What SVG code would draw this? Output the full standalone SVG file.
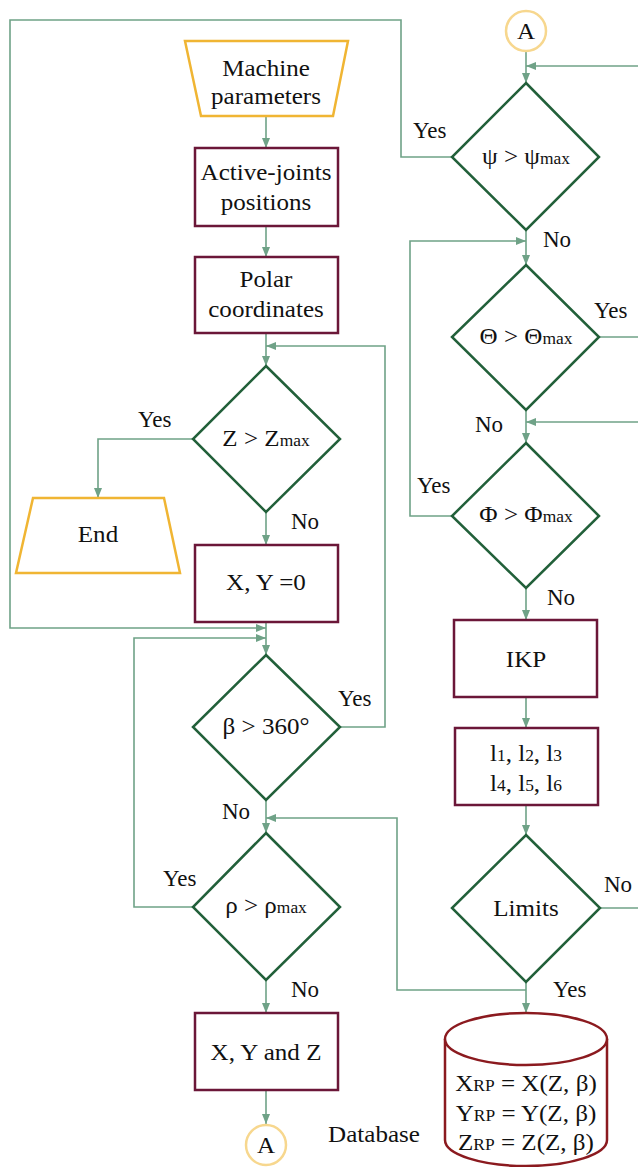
<svg xmlns="http://www.w3.org/2000/svg" width="638" height="1167" viewBox="0 0 638 1167" font-family="'Liberation Serif', 'Times New Roman', serif">
<style>
text{font-family:'Liberation Serif','Times New Roman',serif;fill:#111;}
.t{font-size:23px;text-anchor:middle;}
.s{font-size:16px;}
.lbl{font-size:23px;}
.box{fill:#fff;stroke:#6b1738;stroke-width:2.5;}
.dia{fill:#fff;stroke:#22603a;stroke-width:2.5;}
.io{fill:#fff;stroke:#f0b533;stroke-width:2.5;}
.con{fill:#fff;stroke:#f7d78e;stroke-width:2.5;}
.db{fill:#fff;stroke:#8b1a1f;stroke-width:2.5;}
.c path{fill:none;stroke:#6fa287;stroke-width:1.6;}
</style>
<defs>
<marker id="ar" markerWidth="10" markerHeight="8" refX="10" refY="4" orient="auto" markerUnits="userSpaceOnUse">
<path d="M0,0 L10,4 L0,8 z" fill="#6fa287"/>
</marker>
</defs>
<rect width="638" height="1167" fill="#fff"/>
<g class="c" id="connectors">
<path d="M266,116 V148" marker-end="url(#ar)"/>
<path d="M266,226 V257" marker-end="url(#ar)"/>
<path d="M266,333 V366" marker-end="url(#ar)"/>
<path d="M340,727 H385 V346 H266" marker-end="url(#ar)"/>
<path d="M193,439 H98 V498" marker-end="url(#ar)"/>
<path d="M266,512 V545" marker-end="url(#ar)"/>
<path d="M266,622 V655" marker-end="url(#ar)"/>
<path d="M452,157 H401 V20 H10 V628 H266" marker-end="url(#ar)"/>
<path d="M193,907 H134 V638 H266" marker-end="url(#ar)"/>
<path d="M266,800 V833" marker-end="url(#ar)"/>
<path d="M526,990 H397 V818 H266" marker-end="url(#ar)"/>
<path d="M266,980 V1013" marker-end="url(#ar)"/>
<path d="M266,1090 V1124" marker-end="url(#ar)"/>
<path d="M526,51 V83" marker-end="url(#ar)"/>
<path d="M638,66 H526" marker-end="url(#ar)"/>
<path d="M526,230 V265" marker-end="url(#ar)"/>
<path d="M452,516 H410 V241 H526" marker-end="url(#ar)"/>
<path d="M599,337 H638"/>
<path d="M638,422 H526" marker-end="url(#ar)"/>
<path d="M526,410 V443" marker-end="url(#ar)"/>
<path d="M526,588 V620" marker-end="url(#ar)"/>
<path d="M526,697 V728" marker-end="url(#ar)"/>
<path d="M526,805 V835" marker-end="url(#ar)"/>
<path d="M600,908 H638"/>
<path d="M526,982 V1013" marker-end="url(#ar)"/>
</g>
<g id="labels">
<text class="lbl" x="413" y="138">Yes</text>
<text class="lbl" x="543" y="247">No</text>
<text class="lbl" x="594" y="318">Yes</text>
<text class="lbl" x="475" y="432">No</text>
<text class="lbl" x="417" y="493">Yes</text>
<text class="lbl" x="547" y="605">No</text>
<text class="lbl" x="604" y="892">No</text>
<text class="lbl" x="553" y="997">Yes</text>
<text class="lbl" x="138" y="427">Yes</text>
<text class="lbl" x="291" y="529">No</text>
<text class="lbl" x="338" y="706">Yes</text>
<text class="lbl" x="222" y="819">No</text>
<text class="lbl" x="163" y="886">Yes</text>
<text class="lbl" x="291" y="997">No</text>
<text class="t" transform="translate(374,1142) scale(1.09,1)">Database</text>
</g>
<g id="machine-parameters">
<path class="io" d="M185,41 H348 L333,116 H201 Z"/>
<text class="t" transform="translate(266,76) scale(1.09,1)">Machine</text>
<text class="t" transform="translate(266,104) scale(1.09,1)">parameters</text>
</g>
<g id="active-joints">
<rect class="box" x="195" y="148" width="143" height="78"/>
<text class="t" transform="translate(266,180) scale(1.09,1)">Active-joints</text>
<text class="t" transform="translate(266,210) scale(1.09,1)">positions</text>
</g>
<g id="polar">
<rect class="box" x="195" y="257" width="143" height="76"/>
<text class="t" transform="translate(266,287) scale(1.09,1)">Polar</text>
<text class="t" transform="translate(266,317) scale(1.09,1)">coordinates</text>
</g>
<g id="z-decision">
<path class="dia" d="M266,366 L340,439 L266,512 L193,439 Z"/>
<text class="t" transform="translate(266,446) scale(1.09,1)">Z &gt; Z<tspan class="s">max</tspan></text>
</g>
<g id="end">
<path class="io" d="M33,498 H164 L180,573 H16 Z"/>
<text class="t" transform="translate(98,542) scale(1.09,1)">End</text>
</g>
<g id="xy0">
<rect class="box" x="195" y="545" width="143" height="77"/>
<text class="t" transform="translate(266,590) scale(1.09,1)">X, Y =0</text>
</g>
<g id="beta-decision">
<path class="dia" d="M266,655 L340,727 L266,800 L193,727 Z"/>
<text class="t" transform="translate(266,734) scale(1.09,1)">β &gt; 360°</text>
</g>
<g id="rho-decision">
<path class="dia" d="M266,833 L340,907 L266,980 L193,907 Z"/>
<text class="t" transform="translate(266,913) scale(1.09,1)">ρ &gt; ρ<tspan class="s">max</tspan></text>
</g>
<g id="xyz">
<rect class="box" x="195" y="1013" width="143" height="77"/>
<text class="t" transform="translate(266,1060) scale(1.09,1)">X, Y and Z</text>
</g>
<g id="a-bottom">
<circle class="con" cx="266" cy="1145" r="20"/>
<text class="t" transform="translate(266,1153) scale(1.09,1)">A</text>
</g>
<g id="a-top">
<circle class="con" cx="526" cy="31" r="20"/>
<text class="t" transform="translate(526,39) scale(1.09,1)">A</text>
</g>
<g id="psi-decision">
<path class="dia" d="M526,83 L599,157 L526,230 L452,157 Z"/>
<text class="t" transform="translate(526,164) scale(1.09,1)">ψ &gt; ψ<tspan class="s">max</tspan></text>
</g>
<g id="theta-decision">
<path class="dia" d="M526,265 L599,337 L526,410 L452,337 Z"/>
<text class="t" transform="translate(526,344) scale(1.09,1)">Θ &gt; Θ<tspan class="s">max</tspan></text>
</g>
<g id="phi-decision">
<path class="dia" d="M526,443 L599,516 L526,588 L452,516 Z"/>
<text class="t" transform="translate(526,522) scale(1.09,1)">Φ &gt; Φ<tspan class="s">max</tspan></text>
</g>
<g id="ikp">
<rect class="box" x="454" y="620" width="143" height="77"/>
<text class="t" transform="translate(526,667) scale(1.09,1)">IKP</text>
</g>
<g id="lengths">
<rect class="box" x="455" y="728" width="143" height="77"/>
<text class="t" transform="translate(526,761) scale(1.09,1)">l<tspan class="s">1</tspan>, l<tspan class="s">2</tspan>, l<tspan class="s">3</tspan></text>
<text class="t" transform="translate(526,791) scale(1.09,1)">l<tspan class="s">4</tspan>, l<tspan class="s">5</tspan>, l<tspan class="s">6</tspan></text>
</g>
<g id="limits-decision">
<path class="dia" d="M526,835 L600,908 L526,982 L452,908 Z"/>
<text class="t" transform="translate(526,916) scale(1.09,1)">Limits</text>
</g>
<g id="database">
<path class="db" d="M445,1039 V1140 A81,26 0 0 0 607,1140 V1039"/>
<ellipse class="db" cx="526" cy="1039" rx="81" ry="26"/>
<text class="t" transform="translate(526,1091) scale(1.09,1)">X<tspan class="s">RP</tspan> = X(Z, β)</text>
<text class="t" transform="translate(526,1121) scale(1.09,1)">Y<tspan class="s">RP</tspan> = Y(Z, β)</text>
<text class="t" transform="translate(526,1150) scale(1.09,1)">Z<tspan class="s">RP</tspan> = Z(Z, β)</text>
</g>
</svg>
